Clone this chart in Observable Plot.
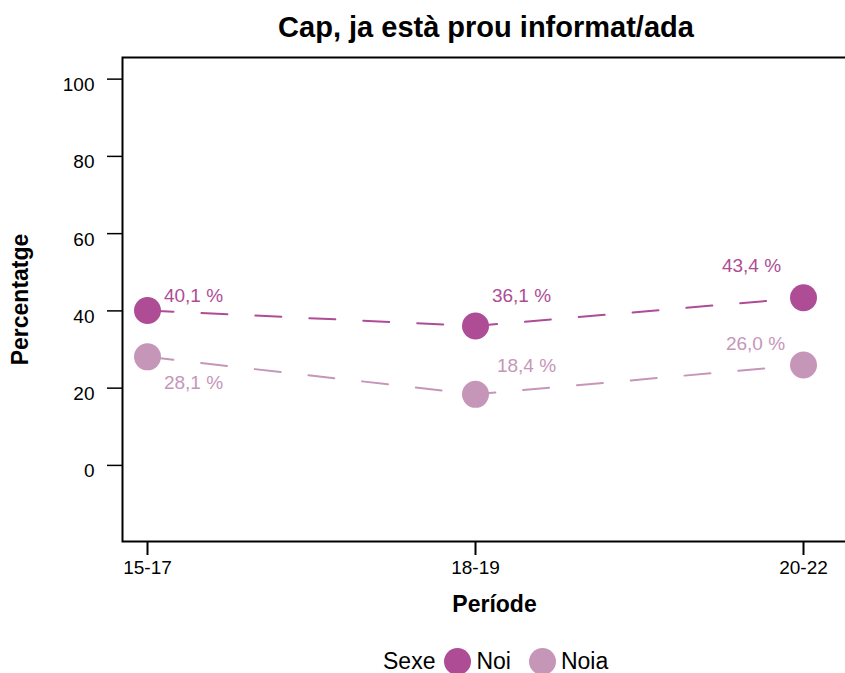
<!DOCTYPE html>
<html>
<head>
<meta charset="utf-8">
<script src="https://cdn.jsdelivr.net/npm/d3@7"></script>
<script src="https://cdn.jsdelivr.net/npm/@observablehq/plot@0.6"></script>
<style>
  html, body { margin: 0; padding: 0; background: #fff; overflow: hidden; }
  body { font-family: "Liberation Sans", Arial, Helvetica, sans-serif; width: 845px; height: 673px; }
  #title { width: 860px; height: 48px; box-sizing: border-box; padding: 13px 10px 0 122px;
           text-align: center; font-weight: bold; font-size: 29px; line-height: 28px; color: #000; white-space: nowrap; }
  #chart { width: 860px; height: 577px; }
  #legend { display: flex; align-items: center; height: 24px; margin-top: 24px; padding-left: 383px;
            font-size: 23px; color: #000; white-space: nowrap; }
  #legend .sw { width: 27px; height: 27px; border-radius: 50%; display: inline-block; }
  #chart svg { display: block; overflow: visible; max-width: none !important; width: 860px !important; height: 577px !important; }
</style>
</head>
<body>
<div id="title">Cap, ja està prou informat/ada</div>
<div id="chart"></div>
<div id="legend"></div>
<script>
// ---- data ----
const periods = ["15-17", "18-19", "20-22"];
const sexes = ["Noi", "Noia"];
const noi = [40.1, 36.1, 43.4];
const noia = [28.1, 18.4, 26.0];
const yTicks = [0, 20, 40, 60, 80, 100];
const titleX = "Període";
const titleY = "Percentatge";
const legendTitle = "Sexe";

// ---- styles ----
const colors = ["#AE4D96", "#C696B9"];
const labelOffsets = {
  "Noi|15-17": [46, -15], "Noia|15-17": [46, 26],
  "Noi|18-19": [46, -30], "Noia|18-19": [51, -28],
  "Noi|20-22": [-52, -32], "Noia|20-22": [-48, -21]
};

const rows = periods.flatMap((p, i) => [
  {period: p, sex: sexes[0], value: noi[i]},
  {period: p, sex: sexes[1], value: noia[i]}
]);
const fmt = v => v.toFixed(1).replace(".", ",") + " %";
const colorOf = s => colors[sexes.indexOf(s)];

const labelMarks = rows.map(r => {
  const [dx, dy] = labelOffsets[r.sex + "|" + r.period];
  return Plot.text([r], {x: "period", y: "value", text: d => fmt(d.value),
    fill: colorOf(r.sex), dx, dy, fontSize: 19, textAnchor: "middle"});
});

const chart = Plot.plot({
  width: 860,
  height: 577,
  marginTop: 9,
  marginLeft: 122,
  marginRight: 10,
  marginBottom: 84,
  style: {fontFamily: "'Liberation Sans', Arial, Helvetica, sans-serif", color: "#000", background: "#fff"},
  x: {type: "point", domain: periods, range: [146, 803], padding: 0},
  y: {domain: [-19.7, 105.6]},
  color: {domain: sexes, range: colors},
  marks: [
    Plot.axisY({ticks: yTicks, tickSize: 15, label: null, strokeWidth: 1.5, stroke: "#000", text: null}),
    Plot.axisY({ticks: yTicks, tickSize: 0, tickPadding: 28, fontSize: 19, label: null, fill: "#000", dy: 6}),
    Plot.axisX({tickSize: 14, tickPadding: 5, fontSize: 19, label: null, strokeWidth: 2, stroke: "#000", fill: "#000"}),
    Plot.frame({stroke: "#000", strokeWidth: 2}),
    Plot.line(rows, {x: "period", y: "value", z: "sex", stroke: "sex", strokeWidth: 2, strokeDasharray: "26,28"}),
    Plot.dot(rows, {x: "period", y: "value", fill: "sex", r: 13.5}),
    ...labelMarks,
    Plot.text([titleX], {frameAnchor: "bottom", dx: 8, dy: 63, text: d => d, fontWeight: "bold", fontSize: 23, lineAnchor: "middle", textAnchor: "middle"}),
    Plot.text([titleY], {frameAnchor: "left", dx: -102, rotate: -90, text: d => d, fontWeight: "bold", fontSize: 23, lineAnchor: "middle", textAnchor: "middle"})
  ]
});
document.getElementById("chart").appendChild(chart);

// legend
const legend = document.getElementById("legend");
const lt = document.createElement("span");
lt.textContent = legendTitle;
lt.style.marginRight = "9px";
legend.appendChild(lt);
sexes.forEach((s, i) => {
  const sw = document.createElement("span");
  sw.className = "sw";
  sw.style.background = colors[i];
  sw.style.marginRight = "5px";
  legend.appendChild(sw);
  const t = document.createElement("span");
  t.textContent = s;
  t.style.marginRight = "18px";
  legend.appendChild(t);
});
</script>
</body>
</html>
